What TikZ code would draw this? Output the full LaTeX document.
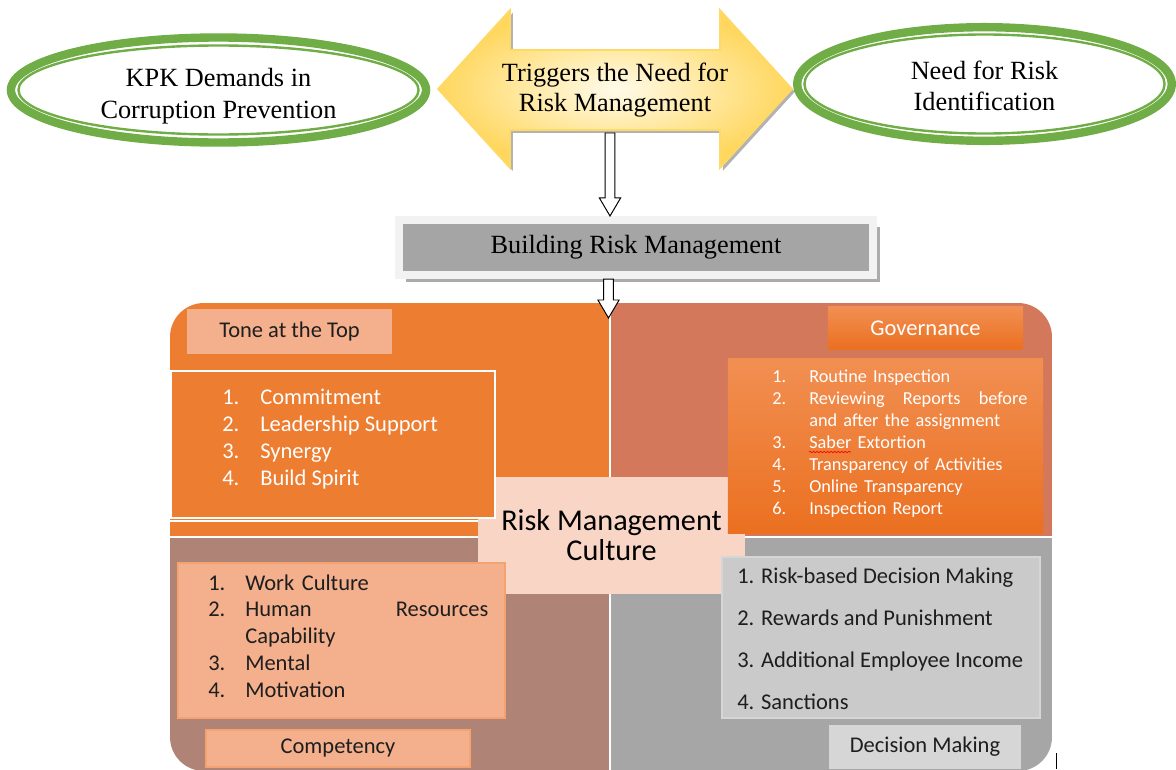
\documentclass[tikz,border=0pt]{standalone}
\usepackage{fontspec}
\setmainfont{Liberation Serif}
\newfontfamily\calibri{Carlito}
\usetikzlibrary{shapes.geometric}
\usetikzlibrary{shadows}
\usetikzlibrary{decorations.pathmorphing}

\definecolor{ringgreen}{HTML}{70AD47}
\definecolor{goldline}{HTML}{FFD966}
\definecolor{goldfill}{HTML}{FFD75E}
\definecolor{goldlight}{HTML}{FFFBEA}
\definecolor{toneorange}{HTML}{ED7D31}
\definecolor{govbrown}{HTML}{D3785A}
\definecolor{compbrown}{HTML}{AF8376}
\definecolor{decgrey}{HTML}{A6A6A6}
\definecolor{peach}{HTML}{F8D5C5}
\definecolor{salmon}{HTML}{F4B08D}
\definecolor{salmonline}{HTML}{F4A26F}
\definecolor{govtop}{HTML}{F18F52}
\definecolor{govbot}{HTML}{EB7020}
\definecolor{boxgrey}{HTML}{A5A5A5}
\definecolor{framegrey}{HTML}{F2F2F2}
\definecolor{listgrey}{HTML}{CACACA}
\definecolor{labelgrey}{HTML}{D6D6D6}
\definecolor{darktext}{HTML}{1E1E1E}

\newcommand{\enumno}[2][0.95cm]{\makebox[#1][l]{#2}}

\begin{document}
\begin{tikzpicture}[
	x=0.025cm, y=-0.025cm,
	ring/.style = {ellipse, draw=ringgreen, line width=0.21cm, inner sep=0pt},
	ring line/.style = {draw=ringgreen, line width=0.06cm},
	ring text/.style = {align=center, inner sep=0pt, font=\fontsize{18.7}{22.3}\selectfont},
	hollow arrow/.style = {draw=black, fill=white, line width=0.7pt, to path={
		([xshift=-0.12cm]\tikztostart) -- ([xshift=-0.12cm,yshift=0.45cm]\tikztotarget) -- ([xshift=-0.265cm,yshift=0.45cm]\tikztotarget) -- (\tikztotarget) -- ([xshift=0.265cm,yshift=0.45cm]\tikztotarget) -- ([xshift=0.12cm,yshift=0.45cm]\tikztotarget) -- ([xshift=0.12cm]\tikztostart) -- cycle}},
	panel/.style = {rectangle, inner sep=0pt},
	tag/.style = {panel, font=\calibri\fontsize{16}{19}\selectfont},
	list/.style = {inner sep=0pt, anchor=west, align=left, font=\calibri\fontsize{16}{19.1}\selectfont}
	]

	\useasboundingbox (0,0) rectangle (1176,769);

	% top row
	\node[ring, minimum width=10.375cm, minimum height=2.625cm] (kpk) at (218.5,90) {};
	\draw[ring line] (kpk.center) ellipse [x radius=5cm, y radius=1.1125cm];
	\node[ring text] (kpktext) at (218.5,96) {KPK Demands in\\Corruption Prevention};
	\node[ring, minimum width=9.36cm, minimum height=2.84cm] (need) at (984.5,84) {};
	\draw[ring line] (need.center) ellipse [x radius=4.5cm, y radius=1.2375cm];
	\node[ring text] (needtext) at (984.5,86) {Need for Risk\\Identification};

	\shadedraw[draw=goldline, line width=1.2pt, inner color=goldlight, outer color=goldfill,
		drop shadow={shadow xshift=2pt, shadow yshift=-2pt, fill=black, opacity=.3}]
		(438,89) -- (510,10) -- (510,50) -- (720,50) -- (720,10) -- (792,89) -- (720,168) -- (720,130) -- (510,130) -- (510,168) -- cycle;
	\node[align=center, font=\fontsize{18.7}{21.3}\selectfont] (trig) at (615,90) {Triggers the Need for\\Risk Management};
	\coordinate (trigfoot) at (610,133);

	% building box
	\node[panel, fill=boxgrey, draw=framegrey, line width=0.2cm, minimum width=11.85cm, minimum height=1.375cm,
		drop shadow={shadow xshift=5pt, shadow yshift=-5pt, fill=black!55, opacity=.6},
		font=\fontsize{18.7}{22}\selectfont] (build) at (636,247.5) {Building Risk Management\vphantom{Ay}};
	\coordinate (buildtop) at (trigfoot |- build.north);
	\draw[hollow arrow] (trigfoot) to (buildtop);

	% culture block
	\begin{scope}
		\clip[rounded corners=0.85cm] (170,303) rectangle (1052,771);
		\fill[toneorange] (170,303) rectangle (610,537);
		\fill[govbrown] (610,303) rectangle (1052,537);
		\fill[compbrown] (170,537) rectangle (610,771);
		\fill[decgrey] (610,537) rectangle (1052,771);
		\draw[white, line width=1.2pt] (610,303) -- (610,771) (170,537) -- (1052,537);
		\draw[white, line width=1.2pt] (170,521) -- (478,521);
	\end{scope}

	\coordinate (culturetop) at (608.5,318);
	\coordinate (buildfoot) at (culturetop |- build.south);
	\draw[hollow arrow] (buildfoot) to (culturetop);

	\node[panel, fill=peach, minimum width=6.675cm, minimum height=2.925cm, align=center,
		font=\calibri\fontsize{21.5}{21.3}\selectfont] (culture) at (611.5,535.5) {Risk Management\\Culture};

	% tone at the top
	\node[tag, fill=salmon, text=darktext, minimum width=5.125cm, minimum height=1.125cm] (tone) at (289.5,331.5) {Tone at the Top};
	\node[panel, fill=toneorange, draw=white, line width=1.2pt, minimum width=8.1cm, minimum height=3.675cm] (tonebox) at (333,444.5) {};
	\node[list, text=white] (tonelist) at (222,439) {\enumno{1.}Commitment\\\enumno{2.}Leadership Support\\\enumno{3.}Synergy\\\enumno{4.}Build Spirit};

	% governance
	\node[tag, top color=govtop, bottom color=govbot, text=white, minimum width=4.875cm, minimum height=1.05cm] (gov) at (925.5,328) {Governance};
	\node[panel, top color=govtop, bottom color=govbot, minimum width=7.875cm, minimum height=4.35cm] (govbox) at (885.5,446) {};
	\node[list, text=white, text width=6.375cm, font=\calibri\fontsize{13}{15.7}\selectfont] (govlist) at (772,443.5) {\enumno[0.925cm]{1.}Routine Inspection\\\enumno[0.925cm]{2.}Reviewing\hfill Reports\hfill before\\\hspace*{0.925cm}and after the assignment\\\enumno[0.925cm]{3.}Saber Extortion\\\enumno[0.925cm]{4.}Transparency of Activities\\\enumno[0.925cm]{5.}Online Transparency\\\enumno[0.925cm]{6.}Inspection Report};
	\draw[red, line width=0.5pt, decorate, decoration={snake, amplitude=0.5pt, segment length=2.5pt}] (809,452) -- (851,452);

	% competency
	\node[panel, fill=salmon, draw=salmonline, line width=0.8pt, minimum width=8.175cm, minimum height=3.875cm] (compbox) at (341.5,640.5) {};
	\node[list, text=darktext, text width=7cm] (complist) at (208,636) {\enumno[0.925cm]{1.}Work Culture\\\enumno[0.925cm]{2.}Human\hfill Resources\\\hspace*{0.925cm}Capability\\\enumno[0.925cm]{3.}Mental\\\enumno[0.925cm]{4.}Motivation};
	\node[tag, fill=salmon, draw=salmonline, line width=0.8pt, text=darktext, minimum width=6.6cm, minimum height=0.925cm] (comp) at (338,748.5) {Competency};

	% decision making
	\node[panel, fill=listgrey, draw=labelgrey, line width=0.8pt, minimum width=7.95cm, minimum height=4.025cm] (decbox) at (881,637.5) {};
	\node[list, text=darktext, font=\calibri\fontsize{16}{29.8}\selectfont] (declist) at (737,639) {1. Risk-based Decision Making\\2. Rewards and Punishment\\3. Additional Employee Income\\4. Sanctions};
	\node[tag, fill=labelgrey, text=darktext, minimum width=4.8cm, minimum height=1.1cm] (dec) at (925,747) {Decision Making};

	\draw[black, line width=0.6pt] (1056,753) -- (1056,769);

\end{tikzpicture}
\end{document}
